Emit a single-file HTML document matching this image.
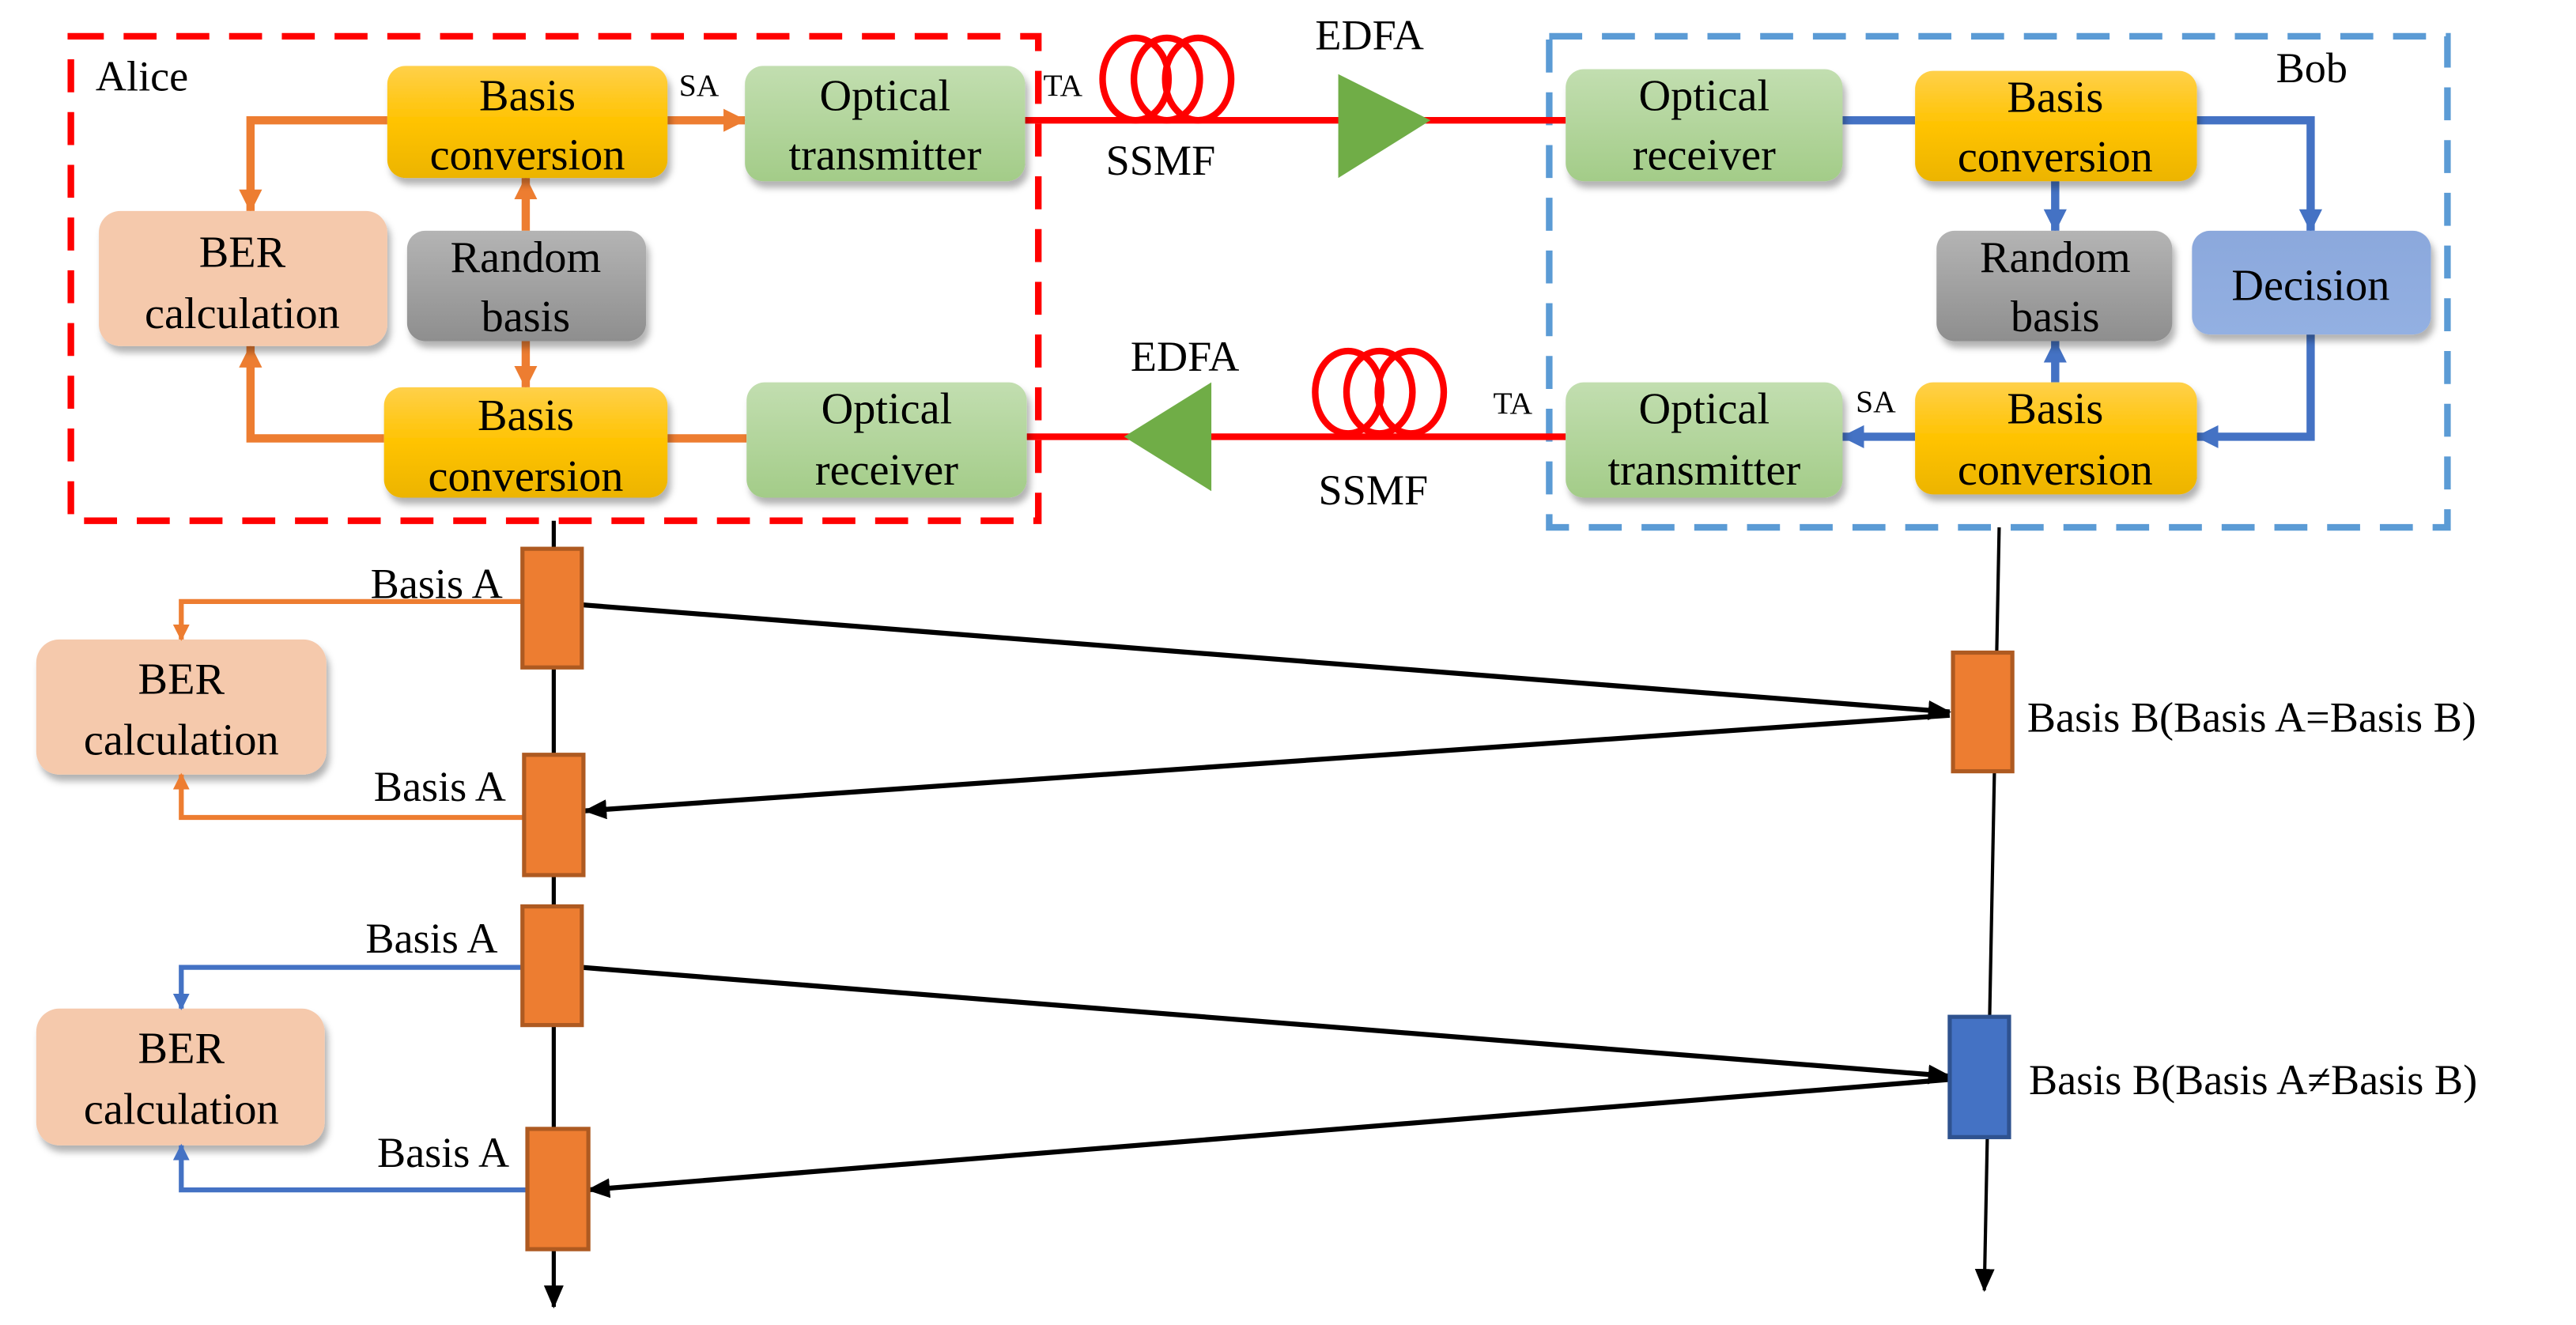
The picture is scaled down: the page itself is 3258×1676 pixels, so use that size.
<!DOCTYPE html>
<html><head><meta charset="utf-8"><style>html,body{margin:0;padding:0;background:#fff}svg{display:block}svg text{font-family:"Liberation Serif","Times New Roman","DejaVu Serif",serif}</style></head><body>
<svg width="3258" height="1676" viewBox="0 0 1563 804" preserveAspectRatio="none" xmlns="http://www.w3.org/2000/svg">
<defs>
<linearGradient id="gy" x1="0" y1="0" x2="0" y2="1"><stop offset="0" stop-color="#ffd04a"/><stop offset="0.5" stop-color="#ffc300"/><stop offset="1" stop-color="#ecb400"/></linearGradient>
<linearGradient id="gg" x1="0" y1="0" x2="0" y2="1"><stop offset="0" stop-color="#c2deb0"/><stop offset="1" stop-color="#a3cc88"/></linearGradient>
<linearGradient id="gr" x1="0" y1="0" x2="0" y2="1"><stop offset="0" stop-color="#b4b4b4"/><stop offset="1" stop-color="#8e8e8e"/></linearGradient>
<linearGradient id="gb" x1="0" y1="0" x2="0" y2="1"><stop offset="0" stop-color="#8ba8dc"/><stop offset="1" stop-color="#93b0e2"/></linearGradient>
<filter id="sh" x="-10%" y="-10%" width="130%" height="140%"><feDropShadow dx="2" dy="4" stdDeviation="2" flood-color="#000" flood-opacity="0.3"/></filter>
<marker id="ao" markerWidth="14" markerHeight="14" refX="13" refY="7" orient="auto" markerUnits="userSpaceOnUse"><path d="M0,0 L14,7 L0,14 z" fill="#ed7d31"/></marker>
<marker id="ab" markerWidth="14" markerHeight="14" refX="13" refY="7" orient="auto" markerUnits="userSpaceOnUse"><path d="M0,0 L14,7 L0,14 z" fill="#4472c4"/></marker>
<marker id="ak" markerWidth="14" markerHeight="12" refX="13" refY="6" orient="auto" markerUnits="userSpaceOnUse"><path d="M0,0 L14,6 L0,12 z" fill="#000"/></marker>
<marker id="ao2" markerWidth="10" markerHeight="10" refX="9" refY="5" orient="auto" markerUnits="userSpaceOnUse"><path d="M0,0 L10,5 L0,10 z" fill="#ed7d31"/></marker>
<marker id="ab2" markerWidth="10" markerHeight="10" refX="9" refY="5" orient="auto" markerUnits="userSpaceOnUse"><path d="M0,0 L10,5 L0,10 z" fill="#4472c4"/></marker>
</defs>

<rect x="43" y="22" width="587" height="294" fill="none" stroke="#ff0000" stroke-width="4" stroke-dasharray="20,12"/>
<rect x="940" y="22" width="545" height="298" fill="none" stroke="#5b9bd5" stroke-width="4" stroke-dasharray="20,12"/>

<line x1="622" y1="73" x2="950" y2="73" stroke="#ff0000" stroke-width="4"/>
<line x1="623" y1="265" x2="950" y2="265" stroke="#ff0000" stroke-width="4"/>
<g fill="none" stroke="#ff0000" stroke-width="4">
<ellipse cx="689" cy="48" rx="20" ry="25"/><ellipse cx="708" cy="48" rx="20" ry="25"/><ellipse cx="727" cy="48" rx="20" ry="25"/>
<ellipse cx="818" cy="238" rx="20" ry="25"/><ellipse cx="837" cy="238" rx="20" ry="25"/><ellipse cx="856" cy="238" rx="20" ry="25"/>
</g>
<polygon points="812,45 868,73 812,108" fill="#70ad47"/>
<polygon points="735,232 682,265 735,298" fill="#70ad47"/>

<g stroke="#ed7d31" stroke-width="5" fill="none">
<polyline points="235,73 152,73 152,128" marker-end="url(#ao)"/>
<polyline points="233,266 152,266 152,210" marker-end="url(#ao)"/>
<line x1="319" y1="140" x2="319" y2="108" marker-end="url(#ao)"/>
<line x1="319" y1="207" x2="319" y2="235" marker-end="url(#ao)"/>
<line x1="405" y1="73" x2="452" y2="73" marker-end="url(#ao)"/>
<line x1="405" y1="266" x2="453" y2="266"/>
</g>
<g stroke="#4472c4" stroke-width="5" fill="none">
<line x1="1118" y1="73" x2="1162" y2="73"/>
<polyline points="1333,73 1402,73 1402,140" marker-end="url(#ab)"/>
<line x1="1247" y1="110" x2="1247" y2="140" marker-end="url(#ab)"/>
<polyline points="1402,203 1402,265 1333,265" marker-end="url(#ab)"/>
<line x1="1247" y1="232" x2="1247" y2="207" marker-end="url(#ab)"/>
<line x1="1162" y1="265" x2="1118" y2="265" marker-end="url(#ab)"/>
</g>

<g filter="url(#sh)">
<rect x="235" y="40" width="170" height="68" rx="11" fill="url(#gy)"/>
<rect x="452" y="40" width="170" height="70" rx="11" fill="url(#gg)"/>
<rect x="60" y="128" width="175" height="82" rx="13" fill="#f5c9ac"/>
<rect x="247" y="140" width="145" height="67" rx="11" fill="url(#gr)"/>
<rect x="233" y="235" width="172" height="67" rx="11" fill="url(#gy)"/>
<rect x="453" y="232" width="170" height="70" rx="11" fill="url(#gg)"/>
<rect x="950" y="42" width="168" height="68" rx="11" fill="url(#gg)"/>
<rect x="1162" y="43" width="171" height="67" rx="11" fill="url(#gy)"/>
<rect x="1175" y="140" width="143" height="67" rx="11" fill="url(#gr)"/>
<rect x="1330" y="140" width="145" height="63" rx="11" fill="url(#gb)"/>
<rect x="950" y="232" width="168" height="70" rx="11" fill="url(#gg)"/>
<rect x="1162" y="232" width="171" height="68" rx="11" fill="url(#gy)"/>
<rect x="22" y="388" width="176" height="82" rx="14" fill="#f5c9ac"/>
<rect x="22" y="612" width="175" height="83" rx="14" fill="#f5c9ac"/>
</g>

<g font-size="27" text-anchor="middle" fill="#000">
<text x="320" y="67">Basis</text><text x="320" y="103">conversion</text>
<text x="537" y="67">Optical</text><text x="537" y="103">transmitter</text>
<text x="147" y="162">BER</text><text x="147" y="199">calculation</text>
<text x="319" y="165">Random</text><text x="319" y="201">basis</text>
<text x="319" y="261">Basis</text><text x="319" y="298">conversion</text>
<text x="538" y="257">Optical</text><text x="538" y="294">receiver</text>
<text x="1034" y="67">Optical</text><text x="1034" y="103">receiver</text>
<text x="1247" y="68">Basis</text><text x="1247" y="104">conversion</text>
<text x="1247" y="165">Random</text><text x="1247" y="201">basis</text>
<text x="1402" y="182">Decision</text>
<text x="1034" y="257">Optical</text><text x="1034" y="294">transmitter</text>
<text x="1247" y="257">Basis</text><text x="1247" y="294">conversion</text>
<text x="110" y="421">BER</text><text x="110" y="458">calculation</text>
<text x="110" y="645">BER</text><text x="110" y="682">calculation</text>
</g>
<g font-size="26" fill="#000">
<text x="58" y="55">Alice</text>
<text x="1381" y="50">Bob</text>
<text x="671" y="106">SSMF</text>
<text x="798" y="30">EDFA</text>
<text x="686" y="225">EDFA</text>
<text x="800" y="306">SSMF</text>
</g>
<g font-size="19" fill="#000">
<text x="412" y="58">SA</text><text x="633" y="58">TA</text>
<text x="1126" y="250">SA</text><text x="906" y="251">TA</text>
</g>

<line x1="336" y1="316" x2="336" y2="793" stroke="#000" stroke-width="2.5" marker-end="url(#ak)"/>
<line x1="1213" y1="320" x2="1204" y2="783" stroke="#000" stroke-width="2" marker-end="url(#ak)"/>

<g stroke="#000" stroke-width="3" fill="none">
<line x1="353" y1="367" x2="1183" y2="432" marker-end="url(#ak)"/>
<line x1="1183" y1="434" x2="355" y2="492" marker-end="url(#ak)"/>
<line x1="353" y1="587" x2="1183" y2="653" marker-end="url(#ak)"/>
<line x1="1183" y1="655" x2="357" y2="722" marker-end="url(#ak)"/>
</g>

<g stroke="#ed7d31" stroke-width="3" fill="none">
<polyline points="317,365 110,365 110,388" marker-end="url(#ao2)"/>
<polyline points="318,496 110,496 110,470" marker-end="url(#ao2)"/>
</g>
<g stroke="#4472c4" stroke-width="3" fill="none">
<polyline points="317,587 110,587 110,612" marker-end="url(#ab2)"/>
<polyline points="320,722 110,722 110,695" marker-end="url(#ab2)"/>
</g>

<g stroke="#ae5a21" stroke-width="2.5" fill="#ed7d31">
<rect x="317" y="333" width="36" height="72"/>
<rect x="318" y="458" width="36" height="73"/>
<rect x="317" y="550" width="36" height="72"/>
<rect x="320" y="685" width="37" height="73"/>
<rect x="1185" y="396" width="36" height="72"/>
</g>
<rect x="1183" y="617" width="36" height="73" fill="#4472c4" stroke="#2f528f" stroke-width="2.5"/>

<g font-size="26" fill="#000">
<text x="305" y="363" text-anchor="end">Basis A</text>
<text x="307" y="486" text-anchor="end">Basis A</text>
<text x="302" y="578" text-anchor="end">Basis A</text>
<text x="309" y="708" text-anchor="end">Basis A</text>
<text x="1230" y="444">Basis B(Basis A=Basis B)</text>
<text x="1231" y="664">Basis B(Basis A≠Basis B)</text>
</g>
</svg>
</body></html>
